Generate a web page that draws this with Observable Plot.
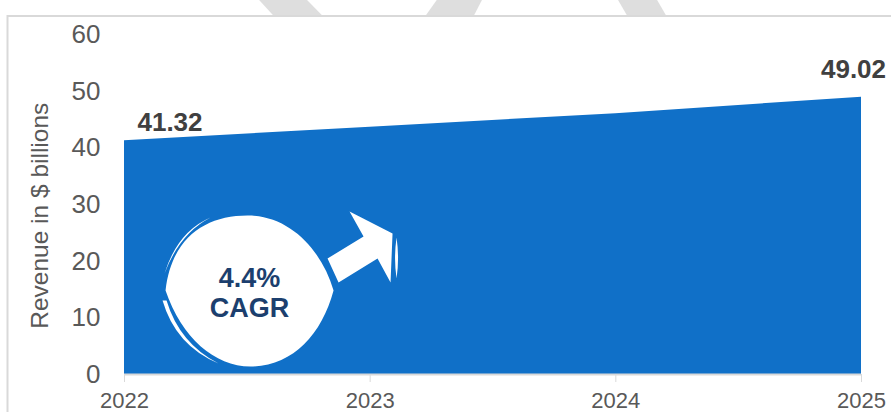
<!DOCTYPE html>
<html>
<head>
<meta charset="utf-8">
<script src="https://cdn.jsdelivr.net/npm/d3@7"></script>
<script src="https://cdn.jsdelivr.net/npm/@observablehq/plot@0.6"></script>
<style>
  html, body { margin: 0; padding: 0; background: #fff; }
</style>
</head>
<body>
<div id="chart"></div>
<script>
// Revenue series
const years = [2022, 2023, 2024, 2025];
const revenue = [41.32, 43.7, 46.1, 49.02];
const yTicks = [0, 10, 20, 30, 40, 50, 60];
const yTitle = "Revenue in $ billions";
const cagrText = "4.4%\nCAGR";

// Where the growth badge sits, in year / revenue units
const badgeYear = [2022.509];
const badgeRevenue = [14.67];

// Grey ribbons that run behind the panel's top edge
const ribbonNames = ["a", "a", "b", "b", "c", "c"];
const ribbonLeft = [2022.55, 2022.607, 2023.273, 2023.229, 2024.011, 2024.047];
const ribbonRight = [2022.745, 2022.806, 2023.457, 2023.425, 2024.170, 2024.206];
const ribbonLevel = [66.1, 63.4, 66.1, 63.4, 66.1, 63.4];

const series = years.map((year, i) => ({year, value: revenue[i]}));
const ribbons = ribbonNames.map((name, i) => ({
  name, left: ribbonLeft[i], right: ribbonRight[i], level: ribbonLevel[i]
}));
const badge = badgeYear.map((year, i) => ({year, value: badgeRevenue[i]}));

// Rounded lens with its two thin crescents, an arrow and a sliver past its tip.
const badgeSymbol = {
  draw(c) {
    c.moveTo(-84, -1);
    c.bezierCurveTo(-78, -54, -44, -76, -2, -76);
    c.bezierCurveTo(40, -76, 72, -42, 84, -1);
    c.bezierCurveTo(72, 44, 42, 75, 1, 75);
    c.bezierCurveTo(-35, 75, -68, 46, -84, -1);
    c.closePath();

    c.moveTo(-85, -18);
    c.quadraticCurveTo(-72, -60, -39, -74);
    c.quadraticCurveTo(-70, -58, -85, -18);
    c.closePath();

    c.moveTo(-87, 9);
    c.quadraticCurveTo(-74, 54, -31, 72);
    c.quadraticCurveTo(-70, 52, -83, 9);
    c.closePath();

    c.moveTo(78, -33);
    c.lineTo(114, -55);
    c.lineTo(100, -80);
    c.lineTo(143, -58);
    c.lineTo(141, -9);
    c.lineTo(128, -33);
    c.lineTo(89, -9);
    c.closePath();

    c.moveTo(147, -54);
    c.quadraticCurveTo(150, -33, 147, -13);
    c.quadraticCurveTo(144, -33, 147, -54);
    c.closePath();
  }
};

const chart = Plot.plot({
  width: 891,
  height: 412,
  marginLeft: 124,
  marginRight: 30,
  marginTop: 34.5,
  marginBottom: 38,
  style: {fontFamily: "'Liberation Sans', Arial, sans-serif", background: "#fff"},
  x: {domain: [2022, 2025]},
  y: {domain: [0, 60]},
  marks: [
    Plot.areaX(ribbons, {x1: "left", x2: "right", y: "level", z: "name", fill: "#dedede"}),
    Plot.frame({
      stroke: "#d9d9d9", strokeWidth: 2, fill: "#fff",
      insetLeft: -117, insetTop: -19, insetRight: -60, insetBottom: -80
    }),
    Plot.areaY(series, {x: "year", y: "value", fill: "#1070c8"}),
    Plot.ruleY([0], {stroke: "#d9d9d9", strokeWidth: 2}),
    Plot.axisX({
      ticks: years, tickFormat: "d", tickSize: 8, tickPadding: 10,
      fontSize: 22, stroke: "#d9d9d9", fill: "#595959", label: null
    }),
    Plot.axisY({
      ticks: yTicks, tickSize: 0, tickPadding: 24,
      fontSize: 26, fill: "#595959", label: null
    }),
    Plot.text([yTitle], {
      frameAnchor: "left", textAnchor: "middle", rotate: -90, dx: -84, dy: 11,
      fontSize: 24.5, fill: "#595959"
    }),
    Plot.text(series.slice(0, 1), {
      x: "year", y: "value", text: d => d.value.toFixed(2),
      dx: 45.5, dy: -18, fontSize: 26, fontWeight: "bold", fill: "#404040"
    }),
    Plot.text(series.slice(-1), {
      x: "year", y: "value", text: d => d.value.toFixed(2),
      dx: -8, dy: -27.5, fontSize: 26, fontWeight: "bold", fill: "#404040"
    }),
    Plot.dot(badge, {x: "year", y: "value", symbol: badgeSymbol, fill: "#fff", stroke: "none"}),
    Plot.text(badge, {
      x: "year", y: "value", text: () => cagrText,
      dy: 1, fontSize: 27, lineHeight: 1.1, fontWeight: "bold", fill: "#1c3f6e"
    })
  ]
});

document.getElementById("chart").appendChild(chart);
</script>
</body>
</html>
